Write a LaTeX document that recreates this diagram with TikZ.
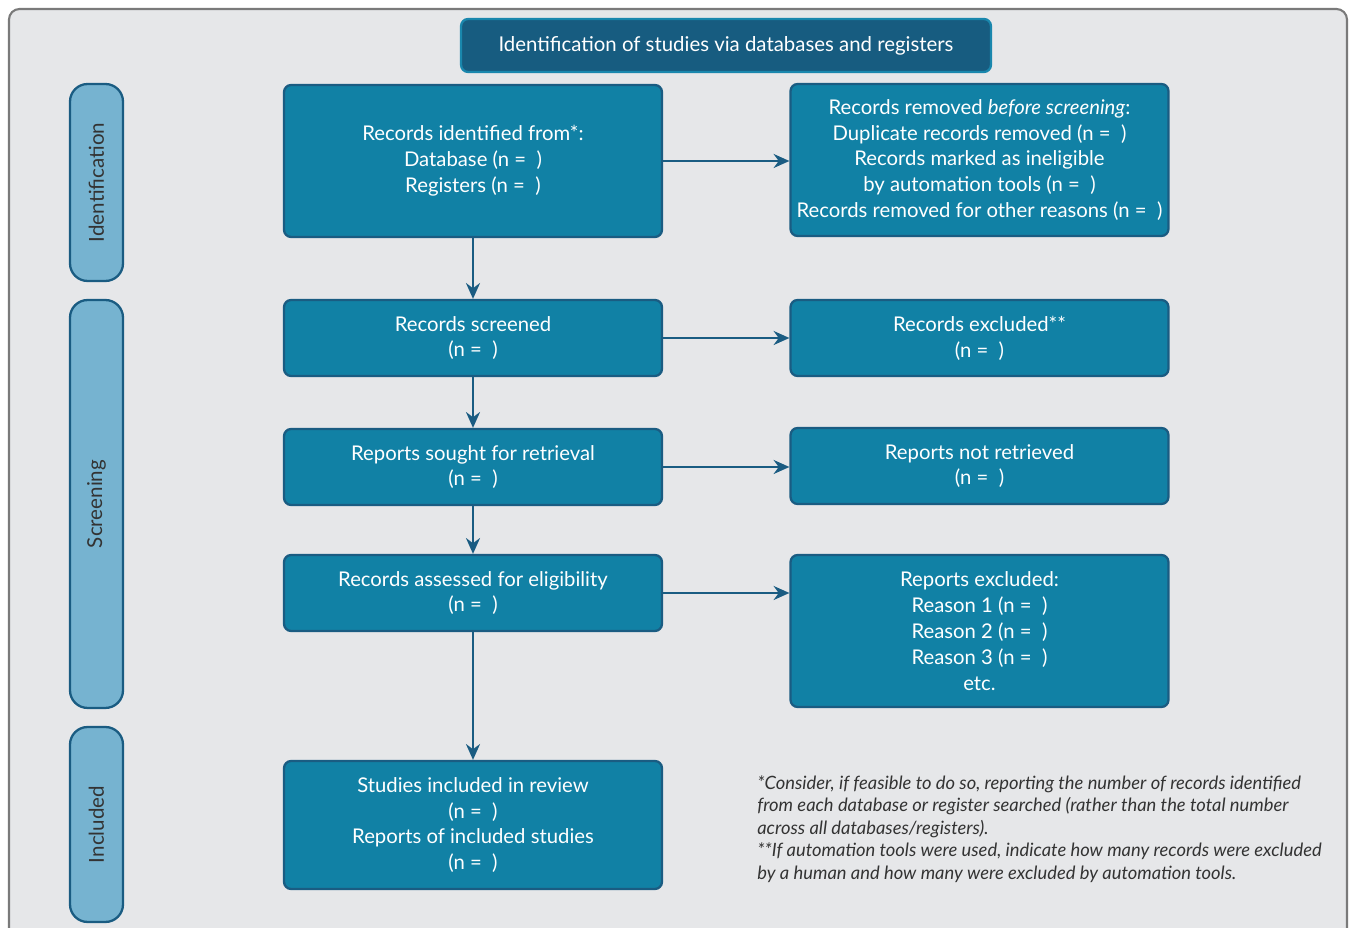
\documentclass[tikz,border=0pt]{standalone}
\usepackage{fontspec}
\setmainfont{Lato}
\usetikzlibrary{arrows.meta}
\definecolor{paneback}{HTML}{E6E7E9}
\definecolor{paneline}{HTML}{7A7A7A}
\definecolor{boxfill}{HTML}{1181A5}
\definecolor{boxline}{HTML}{1A5C82}
\definecolor{headfill}{HTML}{175C80}
\definecolor{headline}{HTML}{1A87AD}
\definecolor{sidefill}{HTML}{76B3D0}
\definecolor{notetext}{HTML}{333333}
\tikzset{
  flowbox/.style={draw=boxline, fill=boxfill, line width=1.3pt, rounded corners=4pt,
    text=white, align=center, inner sep=0pt, minimum width=7.56cm,
    font=\fontsize{11.55}{14.7}\selectfont},
  headbox/.style={draw=headline, fill=headfill, line width=1.3pt, rounded corners=4pt,
    text=white, align=center, inner sep=0pt, minimum width=10.6cm, minimum height=1.06cm,
    font=\fontsize{11.6}{14.7}\selectfont},
  sidebox/.style={draw=boxline, fill=sidefill, line width=1.3pt, rounded corners=10pt,
    text=notetext, inner sep=0pt, minimum width=3.9cm, minimum height=1.06cm,
    rotate=90, font=\fontsize{11.7}{14.7}\selectfont},
  flowarrow/.style={draw=boxline, line width=1.1pt, -{Stealth[length=9pt,width=8pt]}}
}
\begin{document}
\begin{tikzpicture}[x=0.02cm,y=-0.02cm]
  \useasboundingbox (0,0) rectangle (1353,928);
  \clip (0,0) rectangle (1353,928);
  % Outer panel
  \draw[fill=paneback, draw=paneline, line width=1.2pt, rounded corners=6pt] (9,9) rectangle (1347,960);

  % Heading
  \node[headbox] (head) at (726,45.5) {Identification of studies via databases and registers};

  % Phase labels
  \node[sidebox, minimum width=3.94cm] (sideid) at (96.5,182.5) {Identification};
  \node[sidebox, minimum width=8.16cm] (sidescr) at (96.5,504) {Screening};
  \node[sidebox, minimum width=3.9cm] (sideinc) at (96.5,824.5) {Included};

  % Left column
  \node[flowbox, minimum height=3.04cm] (ident) at (473,161)
    {Records identified from*:\\Database (n =\ \ )\\Registers (n =\ \ )};
  \node[flowbox, minimum height=1.52cm] (screened) at (473,338)
    {Records screened\\(n =\ \ )};
  \node[flowbox, minimum height=1.52cm] (sought) at (473,467)
    {Reports sought for retrieval\\(n =\ \ )};
  \node[flowbox, minimum height=1.52cm] (assessed) at (473,593)
    {Records assessed for eligibility\\(n =\ \ )};
  \node[flowbox, minimum height=2.56cm] (included) at (473,825)
    {Studies included in review\\(n =\ \ )\\Reports of included studies\\(n =\ \ )};

  % Right column
  \node[flowbox, minimum height=3.04cm] (removed) at (979.5,160)
    {Records removed \textit{before screening}:\\Duplicate records removed (n =\ \ )\\Records marked as ineligible\\by automation tools (n =\ \ )\\Records removed for other reasons (n =\ \ )};
  \node[flowbox, minimum height=1.52cm] (excluded) at (979.5,338)
    {Records excluded**\\(n =\ \ )};
  \node[flowbox, minimum height=1.52cm] (notretr) at (979.5,466)
    {Reports not retrieved\\(n =\ \ )};
  \node[flowbox, minimum height=3.04cm] (repexcl) at (979.5,631)
    {Reports excluded:\\Reason 1 (n =\ \ )\\Reason 2 (n =\ \ )\\Reason 3 (n =\ \ )\\etc.};

  % Footnote
  \node[anchor=north west, align=left, inner sep=0pt, text=notetext,
    font=\fontsize{10.45}{12.8}\selectfont\itshape] (note) at (757,775)
    {*Consider, if feasible to do so, reporting the number of records identified\\
     from each database or register searched (rather than the total number\\
     across all databases/registers).\\
     **If automation tools were used, indicate how many records were excluded\\
     by a human and how many were excluded by automation tools.};

  % Arrows down
  \draw[flowarrow] (ident) -- (screened);
  \draw[flowarrow] (screened) -- (sought);
  \draw[flowarrow] (sought) -- (assessed);
  \draw[flowarrow] (assessed) -- (included);

  % Arrows across
  \draw[flowarrow] (ident.east) -- (ident.east -| removed.west);
  \draw[flowarrow] (screened) -- (excluded);
  \draw[flowarrow] (sought.east) -- (sought.east -| notretr.west);
  \draw[flowarrow] (assessed.east) -- (assessed.east -| repexcl.west);
\end{tikzpicture}
\end{document}
